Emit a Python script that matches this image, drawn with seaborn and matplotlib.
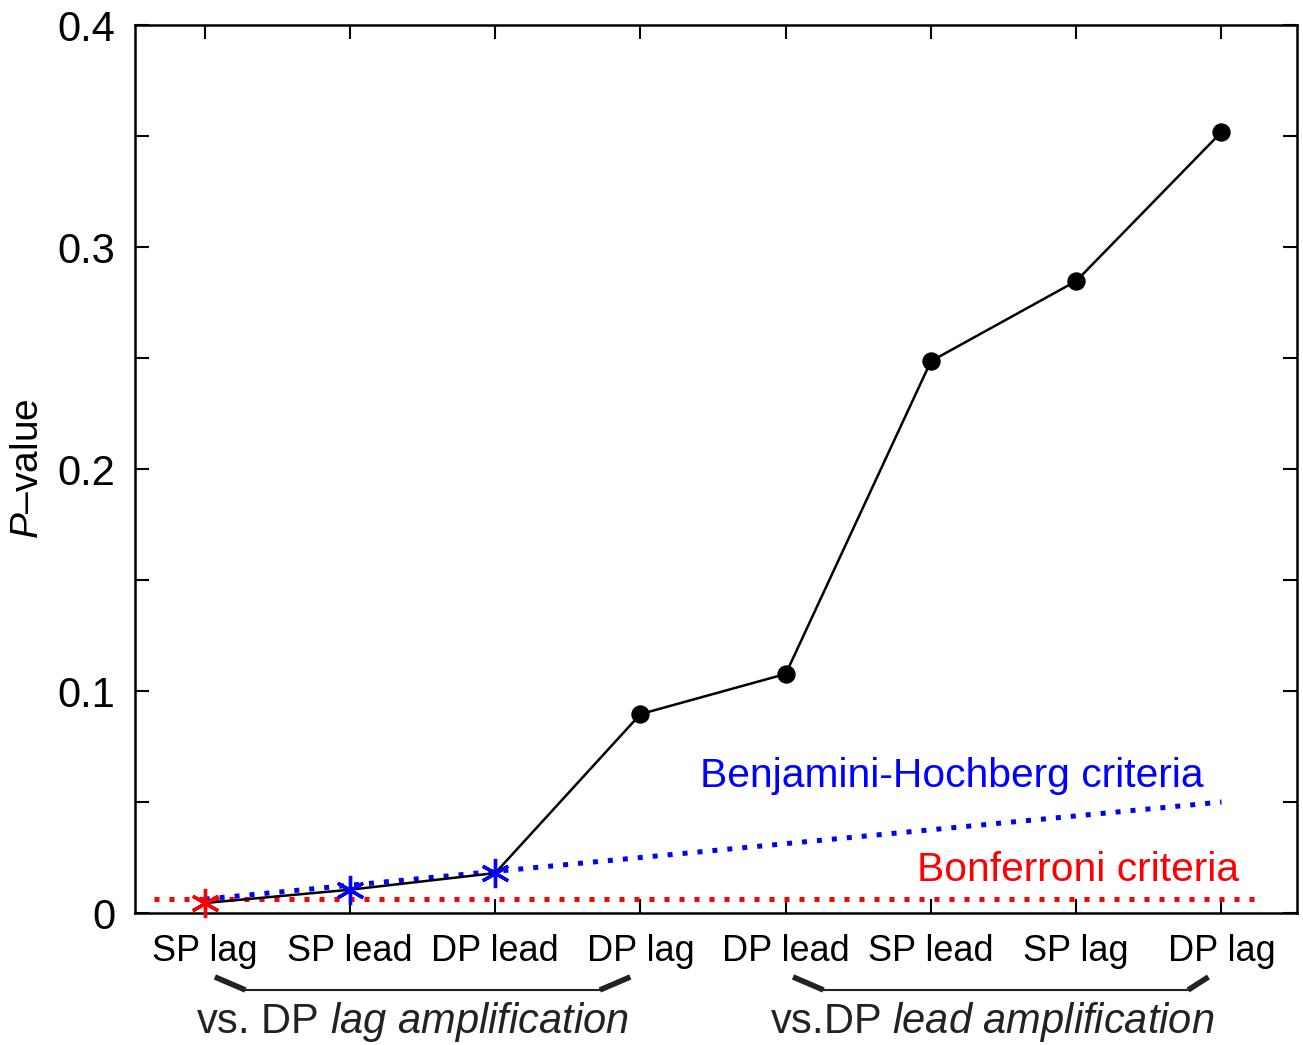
import numpy as np
import pandas as pd
import matplotlib
matplotlib.use("Agg")
import matplotlib.pyplot as plt
import matplotlib.ticker as mticker
import matplotlib.transforms as mtransforms
import seaborn as sns

# ---- data ----
labels = ["SP lag", "SP lead", "DP lead", "DP lag",
          "DP lead", "SP lead", "SP lag", "DP lag"]
pvals = [0.0045, 0.0105, 0.018, 0.0896, 0.1077, 0.2486, 0.2847, 0.3518]
marker_colors = ["red", "blue", "blue", "black", "black", "black", "black", "black"]
alpha_level = 0.05
groups = ["vs. DP $\\it{lag\\ amplification}$", "vs.DP $\\it{lead\\ amplification}$"]
group_members = [(1, 4), (5, 8)]

n = len(pvals)
xpos = np.arange(1, n + 1)
bh_vals = alpha_level * xpos / n
bonf_val = alpha_level / n

df = pd.DataFrame({"x": xpos, "p": pvals, "c": marker_colors})

# ---- style ----
sns.set_theme(style="ticks")
plt.rcParams["font.family"] = ["Liberation Sans", "DejaVu Sans"]
plt.rcParams["mathtext.fontset"] = "custom"
plt.rcParams["mathtext.rm"] = "Liberation Sans"
plt.rcParams["mathtext.it"] = "Liberation Sans:italic"
plt.rcParams["text.color"] = "black"
plt.rcParams["xtick.color"] = "black"
plt.rcParams["ytick.color"] = "black"
plt.rcParams["axes.labelcolor"] = "black"

fig = plt.figure(figsize=(13.03, 10.45), dpi=100)
ax = fig.add_axes([0.1036, 0.1263, 0.8918, 0.8497])

# criteria lines
ax.plot([0.65, 8.24], [bonf_val, bonf_val], color="red", lw=3.6,
        linestyle=(0, (1, 2)), dash_capstyle="butt", zorder=1)
sns.lineplot(x=xpos, y=bh_vals, ax=ax, color="blue", lw=3.6,
             linestyle=(0, (1, 2)), dash_capstyle="butt", zorder=2)

# p-value line
sns.lineplot(data=df, x="x", y="p", ax=ax, color="black", lw=1.8, zorder=3)

# markers
stars = df[df["c"] != "black"]
dots = df[df["c"] == "black"]
for _, r in stars.iterrows():
    ax.plot(r["x"], r["p"], marker=(6, 2, 0), color=r["c"], ms=21, mew=2.4,
            linestyle="none", zorder=4, clip_on=False)
sns.scatterplot(data=dots, x="x", y="p", ax=ax, color="black", s=150,
                edgecolor="black", zorder=4)

ax.text(7.88, 0.0617, "Benjamini-Hochberg criteria", color="blue",
        fontsize=29.3, ha="right", va="center")
ax.text(8.12, 0.0194, "Bonferroni criteria", color="red",
        fontsize=29.3, ha="right", va="center")

# axes
ax.set_xlim(0.52, 8.52)
ax.set_ylim(0, 0.4)
ax.set_xticks(xpos)
ax.set_xticklabels(labels, fontsize=26)
ax.yaxis.set_major_locator(mticker.FixedLocator(np.arange(0, 0.401, 0.05)))
ax.yaxis.set_major_formatter(mticker.FuncFormatter(
    lambda v, p: ("0" if abs(v) < 1e-9 else f"{v:.1f}") if abs(round(v * 10) - v * 10) < 1e-6 else ""))
ax.tick_params(axis="y", labelsize=30, pad=14)
ax.tick_params(axis="x", pad=15)
ax.tick_params(direction="in", length=10, width=1.5, top=True, right=True, color="black")
for s in ax.spines.values():
    s.set_linewidth(1.8)
    s.set_color("black")
ax.set_xlabel("")
ax.set_ylabel("$\\it{P}$\u2013value", fontsize=28)
ax.yaxis.set_label_coords(-0.077, 0.5)

# brackets below labels
trans = mtransforms.blended_transform_factory(ax.transData, ax.transAxes)
y_low, y_high = -0.0867, -0.072
for (a, b), txt, shift in zip(group_members, groups, [-0.07, -0.08]):
    x0, x1, x2, x3 = a + 0.07, a + 0.28, b - 0.28, b - 0.07
    if a == 5:
        x0, x1, x2, x3 = a + 0.05, a + 0.26, b - 0.23, b - 0.09
    ax.plot([x1, x2], [y_low, y_low], color="#222222", lw=1.5,
            transform=trans, clip_on=False)
    ax.plot([x0, x1], [y_high, y_low], color="#222222", lw=4,
            transform=trans, clip_on=False, solid_capstyle="butt")
    ax.plot([x2, x3], [y_low, y_high], color="#222222", lw=4,
            transform=trans, clip_on=False, solid_capstyle="butt")
    ax.text((a + b) / 2 + shift, -0.123, txt, fontsize=30, ha="center",
            va="center", transform=trans, color="#222222")

fig.savefig("out.png", dpi=100)
